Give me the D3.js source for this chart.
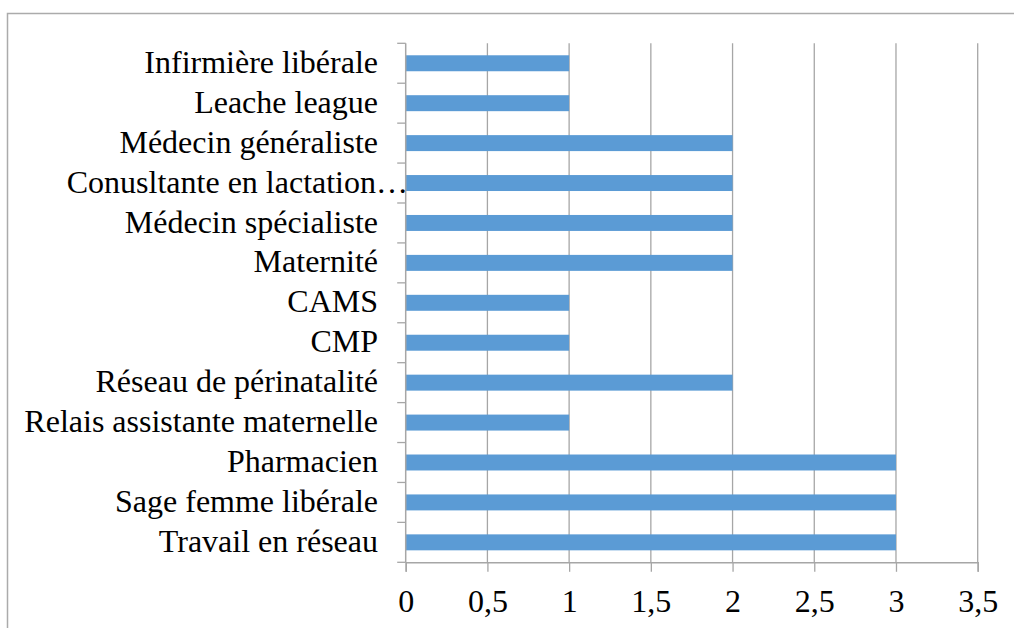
<!DOCTYPE html>
<html><head><meta charset="utf-8">
<script src="https://cdn.jsdelivr.net/npm/d3@7"></script>
<style>
html,body{margin:0;padding:0;background:#fff;}
svg{display:block;}
text{font-family:"Liberation Serif","Times New Roman",serif;fill:#000;}
</style></head>
<body>
<svg id="c" width="1014" height="628"></svg>
<script>
const categories = ["Infirmière libérale","Leache league","Médecin généraliste","Conusltante en lactation…","Médecin spécialiste","Maternité","CAMS","CMP","Réseau de périnatalité","Relais assistante maternelle","Pharmacien","Sage femme libérale","Travail en réseau"];
const values = [1,1,2,2,2,2,1,1,2,1,3,3,3];
const tickValues = [0,0.5,1,1.5,2,2.5,3,3.5];

const svg = d3.select("#c");
const pLeft = 405.7, pRight = 977.7, pTop = 43.3, pBottom = 562.3;
const gridColor = "#A6A6A6";

// outer frame
svg.append("rect").attr("x",7.5).attr("y",13.5).attr("width",1040).attr("height",700)
  .attr("fill","none").attr("stroke","#ABABAB").attr("stroke-width",1.5);

const x = d3.scaleLinear().domain([0,3.5]).range([pLeft,pRight]);
const y = d3.scaleBand().domain(categories).range([pTop,pBottom]).paddingInner(0.6).paddingOuter(0.3);

// gridlines
svg.append("g").selectAll("line").data(tickValues.slice(1)).join("line")
  .attr("x1",d=>x(d)).attr("x2",d=>x(d)).attr("y1",pTop).attr("y2",pBottom)
  .attr("stroke",gridColor).attr("stroke-width",1.3);

// bars
svg.append("g").selectAll("rect").data(categories).join("rect")
  .attr("x",x(0)).attr("y",d=>y(d)).attr("height",y.bandwidth())
  .attr("width",(d,i)=>x(values[i])-x(0)).attr("fill","#5B9BD5");

// x axis
const xAxis = d3.axisBottom(x).tickValues(tickValues).tickSize(9.5).tickPadding(15)
  .tickFormat(d=>String(d).replace(".",","));
const gx = svg.append("g").attr("transform",`translate(0,${pBottom})`).call(xAxis);
gx.attr("font-family",null);
gx.select(".domain").attr("stroke",gridColor).attr("stroke-width",1.5);
gx.selectAll(".tick line").attr("stroke",gridColor).attr("stroke-width",1.3);
gx.selectAll("text").attr("font-size",32).style("font-family","'Liberation Serif','Times New Roman',serif").attr("fill","#000").attr("dy","0.78em");

// y axis: band boundary ticks
const yb = d3.scaleLinear().domain([0,categories.length]).range([pTop,pBottom]);
svg.append("line").attr("x1",pLeft).attr("x2",pLeft).attr("y1",pTop).attr("y2",pBottom)
  .attr("stroke",gridColor).attr("stroke-width",1.5);
svg.append("g").selectAll("line").data(d3.range(categories.length+1)).join("line")
  .attr("x1",pLeft-8.5).attr("x2",pLeft).attr("y1",d=>yb(d)).attr("y2",d=>yb(d))
  .attr("stroke",gridColor).attr("stroke-width",1.3);

// labels
svg.append("g").selectAll("text").data(categories).join("text")
  .attr("x",d=>d.endsWith("…") ? 408 : 378)
  .attr("y",d=>y(d)+y.bandwidth()/2)
  .attr("dy","0.3em")
  .attr("text-anchor","end").attr("font-size",32)
  .text(d=>d);
</script>
</body></html>
